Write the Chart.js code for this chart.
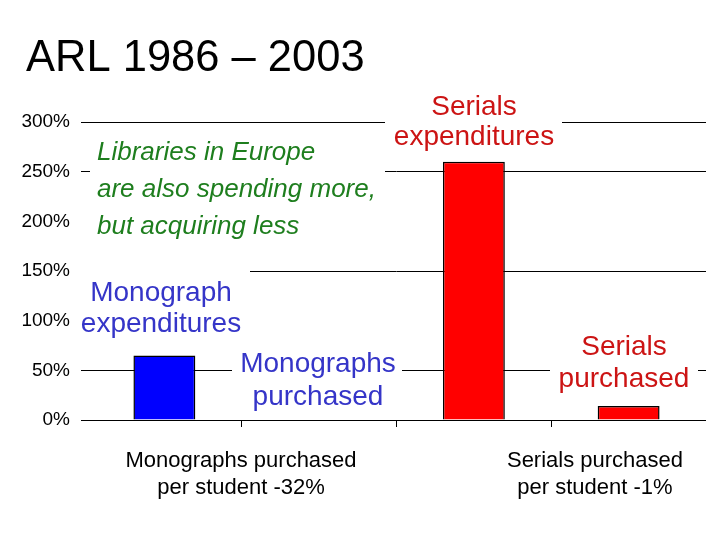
<!DOCTYPE html>
<html>
<head>
  <meta charset="utf-8"/>
  <style>
    html,body{margin:0;padding:0;background:#fff;}
    canvas{display:block;}
  </style>
</head>
<body>
  <canvas id="c" width="720" height="540"></canvas>
  <script src="https://cdn.jsdelivr.net/npm/chart.js@4.4.0/dist/chart.umd.min.js"></script>
  <script>
    // Cambio % 1986-2003 (ARL)
    const categories = ['Monograph expenditures','Monographs purchased','Serials expenditures','Serials purchased'];
    const changePct  = [65, 0, 260, 14];
    const barColors  = ['#0000FF','#0000FF','#FF0000','#FF0000'];
    const yTicks     = [0, 50, 100, 150, 200, 250, 300];
    const noGridAt   = [100, 200];

    const FONT  = '"Liberation Sans", Arial, sans-serif';
    const GREEN = '#1E7E1E', RED = '#CC1414', BLUE = '#3535C8';

    // cajas de texto con fondo blanco (tapan la cuadricula)
    const notes = [
      { box:[90,130,295,116], color:GREEN, size:26, italic:true, align:'left', x:97,
        lines:[['Libraries in Europe',160],['are also spending more,',197],['but acquiring less',234]] },
      { box:[385,88,177,70], color:RED, size:28, align:'center', x:474,
        lines:[['Serials',115],['expenditures',145]] },
      { box:[80,270,170,72], color:BLUE, size:28, align:'center', x:161,
        lines:[['Monograph',301],['expenditures',332]] },
      { box:[232,346,170,68], color:BLUE, size:28, align:'center', x:318,
        lines:[['Monographs',372],['purchased',405]] },
      { box:[550,328,148,68], color:RED, size:28, align:'center', x:624,
        lines:[['Serials',355],['purchased',387]] },
      { color:'#000', size:22, align:'center', x:241,
        lines:[['Monographs purchased',467],['per student -32%',494]] },
      { color:'#000', size:22, align:'center', x:595,
        lines:[['Serials purchased',467],['per student -1%',494]] },
    ];

    const notesPlugin = {
      id:'notes',
      afterDraw(chart){
        const c = chart.ctx;
        c.save();
        c.fillStyle = '#000';
        c.font = `43.5px ${FONT}`;
        c.textAlign = 'left';
        c.textBaseline = 'alphabetic';
        c.fillText('ARL 1986 \u2013 2003', 26, 71);
        notes.forEach(n => {
          if (n.box) { c.fillStyle = '#fff'; c.fillRect(...n.box); }
          c.fillStyle = n.color;
          c.font = `${n.italic ? 'italic ' : ''}${n.size}px ${FONT}`;
          c.textAlign = n.align;
          n.lines.forEach(([t, y]) => c.fillText(t, n.x, y));
        });
        c.restore();
      }
    };

    new Chart(document.getElementById('c'), {
      type:'bar',
      data:{
        labels: categories,
        datasets:[{
          data: changePct,
          backgroundColor: barColors,
          borderColor:'#000',
          borderWidth:1.5,
          categoryPercentage:1,
          barPercentage:0.4
        }]
      },
      options:{
        responsive:false, animation:false,
        layout:{ padding:{ top:122, left:0, right:14, bottom:100 } },
        plugins:{ legend:{display:false}, tooltip:{enabled:false}, title:{display:false} },
        scales:{
          y:{ min:0, max:300,
              afterFit: s => { s.width = 87; },
              afterBuildTicks: s => { s.ticks = yTicks.map(v => ({value:v})); },
              border:{display:false},
              grid:{ color: ctx => noGridAt.includes(ctx.tick && ctx.tick.value) ? 'rgba(0,0,0,0)' : '#000',
                     lineWidth:1, tickLength:6 },
              ticks:{ color:'#000', padding:11, font:{family:FONT, size:19}, callback:v => v + '%' } },
          x:{ afterFit: s => { s.height = 20; },
              border:{display:false},
              grid:{ offset:true, drawOnChartArea:false, tickLength:7, lineWidth:1,
                     color: ctx => (ctx.type !== 'tick' || ctx.index === 0) ? 'rgba(0,0,0,0)' : '#000' },
              ticks:{ display:false } }
        }
      },
      plugins:[notesPlugin]
    });
  </script>
</body>
</html>
